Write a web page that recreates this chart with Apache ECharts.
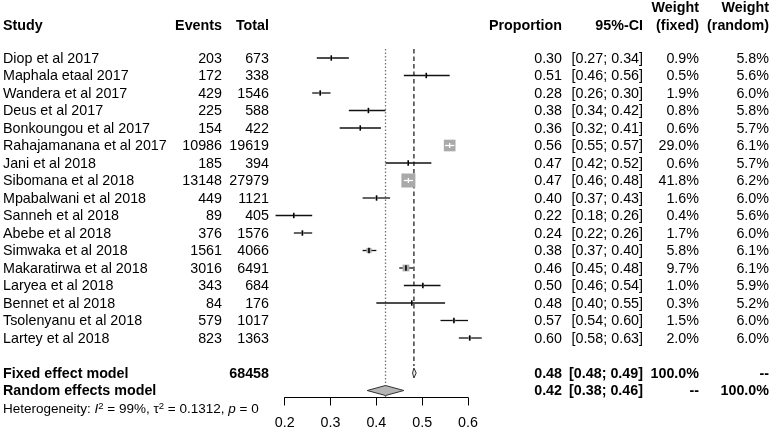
<!DOCTYPE html>
<html>
<head>
<meta charset="utf-8">
<script src="https://cdn.jsdelivr.net/npm/echarts@6/dist/echarts.min.js"></script>
<style>html,body{margin:0;padding:0;background:#fff}#c{width:777px;height:437px}</style>
</head>
<body>
<div id="c"></div>
<script>
const studies = ['Diop et al 2017','Maphala etaal 2017','Wandera et al 2017','Deus et al 2017','Bonkoungou et al 2017','Rahajamanana et al 2017','Jani et al 2018','Sibomana et al 2018','Mpabalwani et al 2018','Sanneh et al 2018','Abebe et al 2018','Simwaka et al 2018','Makaratirwa et al 2018','Laryea et al 2018','Bennet et al 2018','Tsolenyanu et al 2018','Lartey et al 2018'];
const events = [203,172,429,225,154,10986,185,13148,449,89,376,1561,3016,343,84,579,823];
const totals = [673,338,1546,588,422,19619,394,27979,1121,405,1576,4066,6491,684,176,1017,1363];
const proportion = [0.3016,0.5089,0.2775,0.3827,0.3649,0.5600,0.4695,0.4699,0.4005,0.2198,0.2386,0.3839,0.4646,0.5015,0.4773,0.5693,0.6038];
const ciLow  = [0.27,0.46,0.26,0.34,0.32,0.55,0.42,0.46,0.37,0.18,0.22,0.37,0.45,0.46,0.40,0.54,0.58];
const ciHigh = [0.34,0.56,0.30,0.42,0.41,0.57,0.52,0.48,0.43,0.26,0.26,0.40,0.48,0.54,0.55,0.60,0.63];
const weightFixed  = [0.9,0.5,1.9,0.8,0.6,29.0,0.6,41.8,1.6,0.4,1.7,5.8,9.7,1.0,0.3,1.5,2.0];
const weightRandom = [5.8,5.6,6.0,5.8,5.7,6.1,5.7,6.2,6.0,5.6,6.0,6.1,6.1,5.9,5.2,6.0,6.0];
const fixedModel  = {est: 0.482, lo: 0.479, hi: 0.487, label: '0.48', ci: '[0.48; 0.49]', wf: '100.0%', wr: '--', total: 68458};
const randomModel = {est: 0.42, lo: 0.38, hi: 0.46, label: '0.42', ci: '[0.38; 0.46]', wf: '--', wr: '100.0%'};
const xTicks = [0.2, 0.3, 0.4, 0.5, 0.6];
const heterogeneity = {I2: '99%', tau2: '0.1312', p: '0'};

const FONT = '"Liberation Sans", Arial, sans-serif';
const FS = 14.3;
const ROW_FIXED = 18, ROW_RANDOM = 19, ROW_HET = 20;
const maxW = Math.max(...weightFixed);

const chart = echarts.init(document.getElementById('c'), null, {renderer: 'canvas'});

function txt(x, y, s, align, bold, size) {
  return {type: 'text', x: x, y: y, style: {text: s, x: 0, y: 0, align: align, verticalAlign: 'middle', fill: '#000', font: (bold ? 'bold ' : '') + (size || FS) + 'px ' + FONT}};
}
function fmtCI(lo, hi) { return '[' + lo.toFixed(2) + '; ' + hi.toFixed(2) + ']'; }

const textRows = [];
textRows.push({row: -2.9, kind: 'head1'});
textRows.push({row: -1.9, kind: 'head2'});
studies.forEach((s, i) => textRows.push({row: i, kind: 'study', i: i}));
textRows.push({row: ROW_FIXED, kind: 'fixed'});
textRows.push({row: ROW_RANDOM, kind: 'random'});
textRows.push({row: ROW_HET, kind: 'het'});

const COL = {study: 3, events: 222, total: 269, prop: 562, ci: 643, wf: 699, wr: 769};

const option = {
  animation: false,
  backgroundColor: '#fff',
  grid: {left: 284.7, width: 183.3, top: 5.5, height: 392},
  xAxis: {
    type: 'value', min: 0.2, max: 0.6, interval: 0.1, position: 'bottom',
    axisLine: {show: true, onZero: false, lineStyle: {color: '#000', width: 1}},
    axisTick: {show: true, length: 8, lineStyle: {color: '#000', width: 1}},
    axisLabel: {margin: 19, fontSize: 14.3, fontFamily: FONT, color: '#000', verticalAlign: 'top', formatter: v => xTicks.indexOf(Math.round(v*10)/10) >= 0 ? v.toFixed(1) : ''},
    splitLine: {show: false}
  },
  yAxis: {type: 'value', min: -3, max: 19.4, inverse: true, show: false, splitLine: {show: false}},
  series: [
    {
      type: 'custom', clip: false, z: 1,
      data: [[randomModel.est, -0.51, 19.4], [fixedModel.est, -0.51, 17.6]],
      renderItem: (params, api) => {
        const a = api.coord([api.value(0), api.value(1)]);
        const b = api.coord([api.value(0), api.value(2)]);
        const dotted = params.dataIndex === 0;
        return {type: 'line', shape: {x1: a[0], y1: a[1], x2: b[0], y2: b[1]},
          style: {stroke: dotted ? '#777' : '#333', lineWidth: dotted ? 1.3 : 1.4, lineDash: dotted ? [1.3, 2.2] : [4.5, 3]}};
      }
    },
    {
      type: 'custom', clip: false, z: 3,
      data: studies.map((s, i) => [proportion[i], i, ciLow[i], ciHigh[i], weightFixed[i]]),
      renderItem: (params, api) => {
        const row = api.value(1);
        const pe = api.coord([api.value(0), row]);
        const pl = api.coord([api.value(2), row]);
        const ph = api.coord([api.value(3), row]);
        const sz = 14 * Math.sqrt(api.value(4) / maxW);
        const y = pe[1];
        const ch = [
          {type: 'line', shape: {x1: pl[0], y1: y, x2: ph[0], y2: y}, style: {stroke: '#111', lineWidth: 1.3}},
          {type: 'rect', shape: {x: pe[0] - sz/2, y: y - sz/2, width: sz, height: sz}, style: {fill: '#a9a9a9'}}
        ];
        if (sz >= 9) {
          ch.push({type: 'line', shape: {x1: Math.max(pl[0], pe[0]-sz/2), y1: y, x2: Math.min(ph[0], pe[0]+sz/2), y2: y}, style: {stroke: '#fff', lineWidth: 1.3}});
          ch.push({type: 'line', shape: {x1: pe[0], y1: y-2.5, x2: pe[0], y2: y+2.5}, style: {stroke: '#fff', lineWidth: 1.3}});
        } else {
          ch.push({type: 'line', shape: {x1: pe[0], y1: y-2.7, x2: pe[0], y2: y+2.7}, style: {stroke: '#000', lineWidth: 1.6}});
        }
        return {type: 'group', children: ch};
      }
    },
    {
      type: 'custom', clip: false, z: 4,
      data: [[fixedModel.est, ROW_FIXED, fixedModel.lo, fixedModel.hi], [randomModel.est, ROW_RANDOM, randomModel.lo, randomModel.hi]],
      renderItem: (params, api) => {
        const row = api.value(1);
        const pe = api.coord([api.value(0), row]);
        const pl = api.coord([api.value(2), row]);
        const ph = api.coord([api.value(3), row]);
        const h = 5;
        const isFixed = params.dataIndex === 0;
        return {type: 'polygon', shape: {points: [[pl[0], pe[1]], [pe[0], pe[1]-h], [ph[0], pe[1]], [pe[0], pe[1]+h]]},
          style: {fill: isFixed ? '#e8e8e8' : '#b4b4b4', stroke: '#333', lineWidth: 1}};
      }
    },
    {
      type: 'custom', clip: false, z: 5, silent: true,
      data: textRows.map(r => [0.4, r.row]),
      renderItem: (params, api) => {
        const r = textRows[params.dataIndex];
        const y = api.coord([0.4, r.row])[1] + 1;
        const c = [];
        if (r.kind === 'head1') {
          c.push(txt(COL.wf, y, 'Weight', 'right', true));
          c.push(txt(COL.wr, y, 'Weight', 'right', true));
        } else if (r.kind === 'head2') {
          c.push(txt(COL.study, y, 'Study', 'left', true));
          c.push(txt(COL.events, y, 'Events', 'right', true));
          c.push(txt(COL.total, y, 'Total', 'right', true));
          c.push(txt(COL.prop, y, 'Proportion', 'right', true));
          c.push(txt(COL.ci, y, '95%-CI', 'right', true));
          c.push(txt(COL.wf, y, '(fixed)', 'right', true));
          c.push(txt(COL.wr, y, '(random)', 'right', true));
        } else if (r.kind === 'study') {
          const i = r.i;
          c.push(txt(COL.study, y, studies[i], 'left'));
          c.push(txt(COL.events, y, String(events[i]), 'right'));
          c.push(txt(COL.total, y, String(totals[i]), 'right'));
          c.push(txt(COL.prop, y, proportion[i].toFixed(2), 'right'));
          c.push(txt(COL.ci, y, fmtCI(ciLow[i], ciHigh[i]), 'right'));
          c.push(txt(COL.wf, y, weightFixed[i].toFixed(1) + '%', 'right'));
          c.push(txt(COL.wr, y, weightRandom[i].toFixed(1) + '%', 'right'));
        } else if (r.kind === 'fixed' || r.kind === 'random') {
          const m = r.kind === 'fixed' ? fixedModel : randomModel;
          c.push(txt(COL.study, y, r.kind === 'fixed' ? 'Fixed effect model' : 'Random effects model', 'left', true));
          if (m.total) c.push(txt(COL.total, y, String(m.total), 'right', true));
          c.push(txt(COL.prop, y, m.label, 'right', true));
          c.push(txt(COL.ci, y, m.ci, 'right', true));
          c.push(txt(COL.wf, y, m.wf, 'right', true));
          c.push(txt(COL.wr, y, m.wr, 'right', true));
        } else if (r.kind === 'het') {
          c.push({type: 'text', x: COL.study, y: y, style: {
            text: '{n|Heterogeneity: }{i|I}{s|2}{n| = ' + heterogeneity.I2 + ', τ}{s|2}{n| = ' + heterogeneity.tau2 + ', }{i|p}{n| = ' + heterogeneity.p + '}',
            align: 'left', verticalAlign: 'middle', fill: '#000',
            rich: {
              n: {fontSize: 13.5, fontFamily: FONT, fill: '#000', lineHeight: 16},
              i: {fontSize: 13.5, fontFamily: FONT, fontStyle: 'italic', fill: '#000', lineHeight: 16},
              s: {fontSize: 9.5, fontFamily: FONT, fill: '#000', verticalAlign: 'top', lineHeight: 16}
            }
          }});
        }
        return {type: 'group', children: c};
      }
    }
  ]
};
chart.setOption(option);
</script>
</body>
</html>
